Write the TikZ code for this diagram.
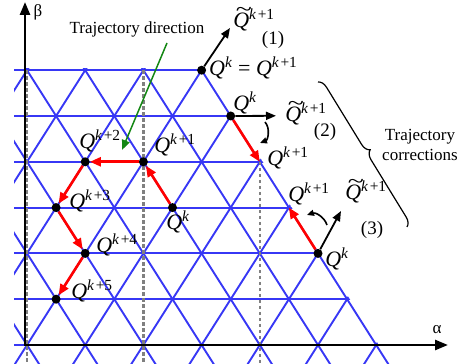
\documentclass[tikz,border=0pt]{standalone}
\usepackage{fontspec}
\setmainfont{Liberation Serif}
\usetikzlibrary{arrows.meta,decorations.pathreplacing}

\definecolor{gridblue}{RGB}{55,55,245}
\definecolor{dirgreen}{RGB}{20,135,20}
\newcommand{\Qs}[1]{\textit{Q}\textsuperscript{\textit{k}#1}}
\newcommand{\Qt}{\makebox[0pt][l]{\hspace{0.12em}\raisebox{0.5em}{\scalebox{1.35}[1]{\textasciitilde}}}\textit{Q}\textsuperscript{\textit{k}\kern1.5pt+1}}

\begin{document}
\begin{tikzpicture}[x=1pt,y=1pt,
grid/.style={draw=gridblue,line width=1.9pt},
guide/.style={draw=black!50,line width=2.3pt,dash pattern=on 3.5pt off 2.5pt},
axis/.style={line width=2.6pt,-{Triangle[length=13pt,width=10pt]}},
move/.style={draw=red,line width=2.6pt,-{Triangle[length=11pt,width=9pt]}},
cand/.style={line width=1.8pt,-{Triangle[length=10pt,width=8pt]}},
turn/.style={line width=1.6pt,-{Triangle[length=7pt,width=6pt]}},
dot/.style={circle,fill=black,inner sep=0pt,minimum size=9pt},
lab/.style={inner sep=0pt,font=\fontsize{22}{24}\selectfont},
num/.style={inner sep=0pt,font=\fontsize{19}{21}\selectfont},
txt/.style={inner sep=0pt,font=\fontsize{17}{20}\selectfont,align=center}
]
\useasboundingbox (0,0) rectangle (464,364);

% triangular lattice
\begin{scope}
\clip (14,-1) -- (14,295.8) -- (203.4,295.8) -- (391.5,-1) -- cycle;
\begin{scope}[shift={(27,19)},x={(58.2pt,0pt)},y={(29.1pt,45.8pt)}]
\foreach \j in {0,...,6} \draw[grid] (-6,\j) -- (8,\j);
\foreach \i in {-6,...,8} \draw[grid] (\i,-1) -- (\i,7);
\foreach \i in {-2,...,12} \draw[grid] (\i+1,-1) -- (\i-7,7);
\end{scope}
\end{scope}

% lattice points used below
\begin{scope}[shift={(27,19)},x={(58.2pt,0pt)},y={(29.1pt,45.8pt)}]
\coordinate (a0) at (0,6);
\coordinate (b0) at (1,5);
\coordinate (b1) at (2,4);
\coordinate (m0) at (1,3);
\coordinate (m1) at (0,4);
\coordinate (m2) at (-1,4);
\coordinate (m3) at (-1,3);
\coordinate (m4) at (0,2);
\coordinate (m5) at (0,1);
\coordinate (c0) at (4,2);
\coordinate (c1) at (3,3);
\coordinate (top) at (-1,6);
\coordinate (lt) at (-3,6);
\end{scope}

% dashed guides
\draw[guide] (lt) -- (lt |- 0,0);
\draw[guide] (top) -- (top |- 0,0);
\draw[guide] (b1) -- (b1 |- 0,0);

% axes
\coordinate (o) at (25,19);
\coordinate (ytip) at (25,362);
\coordinate (xtip) at (448,19);
\draw[axis] (o) -- (ytip);
\draw[axis] ([xshift=-1.3pt]o) -- (xtip);
\node[txt] (beta) at (38,352) {β};
\node[txt] (alpha) at (437,34) {α};

% points
\node[dot] (pa0) at (a0) {};
\node[dot] (pb0) at (b0) {};
\node[dot] (pm0) at (m0) {};
\node[dot] (pm1) at (m1) {};
\node[dot] (pm2) at (m2) {};
\node[dot] (pm3) at (m3) {};
\node[dot] (pm4) at (m4) {};
\node[dot] (pm5) at (m5) {};
\node[dot] (pc0) at (c0) {};

% trajectory
\draw[move] (pm0) -- (pm1);
\draw[move] (pm1) -- (pm2);
\draw[move] (pm2) -- (pm3);
\draw[move] (pm3) -- (pm4);
\draw[move] (pm4) -- (pm5);
\draw[move] (pb0) -- (b1);
\draw[move] (pc0) -- (c1);

% candidate directions
\coordinate (at) at (230,336);
\coordinate (bt) at (276,248.2);
\coordinate (ct) at (341,153);
\draw[cand] (pa0) -- (at);
\draw[cand] (pb0) -- (bt);
\draw[cand] (pc0) -- (ct);
\coordinate (r2a) at (265,242);
\coordinate (r2b) at (260,221);
\coordinate (r3a) at (327,139);
\coordinate (r3b) at (307,149);
\draw[turn] (r2a) to[bend left=55] (r2b);
\draw[turn] (r3a) to[bend right=45] (r3b);

% labels
\node[lab] (la1) at (254,345) {\Qt};
\node[num] (n1) at (273,324) {(1)};
\node[lab,anchor=west] (la0) at (209,296) {\Qs{} = \Qs{\kern1.5pt+1}};
\node[lab] (lb0) at (245,261) {\Qs{}};
\node[lab] (lbt) at (306,251) {\Qt};
\node[num] (n2) at (325,232) {(2)};
\node[lab] (lb1) at (288,206) {\Qs{\kern1.5pt+1}};
\node[lab] (lm0) at (178,142) {\Qs{}};
\node[lab] (lm1) at (175,219) {\Qs{\kern1.5pt+1}};
\node[lab] (lm2) at (100,223) {\Qs{\kern1.5pt+2}};
\node[lab] (lm3) at (90,163) {\Qs{\kern1.5pt+3}};
\node[lab] (lm4) at (117,119) {\Qs{\kern1.5pt+4}};
\node[lab] (lm5) at (92,73) {\Qs{\kern1.5pt+5}};
\node[lab] (lc0) at (337,105) {\Qs{}};
\node[lab] (lc1) at (309,170) {\Qs{\kern1.5pt+1}};
\node[lab] (lct) at (366,173) {\Qt};
\node[num] (n3) at (372,134) {(3)};

% notes
\node[txt] (dir) at (137,335) {Trajectory direction};
\coordinate (g1) at (167,321);
\coordinate (g2) at (122,214);
\draw[dirgreen,line width=1.5pt,-{Triangle[length=10pt,width=8pt]}] (g1) -- (g2);
\node[txt] (corr) at (420,219) {Trajectory\\corrections};
\draw[decorate,decoration={brace,amplitude=9pt},line width=1.2pt] (318,282) -- (407,137);
\end{tikzpicture}
\end{document}
